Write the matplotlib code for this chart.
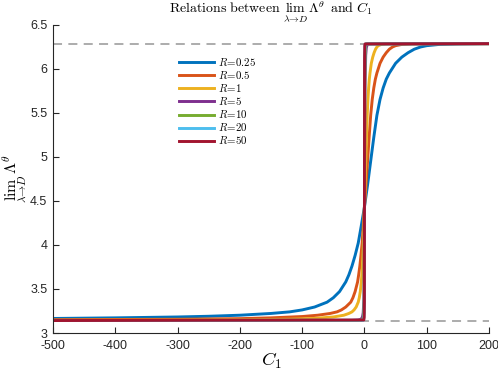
import numpy as np
import matplotlib
matplotlib.use("Agg")
import matplotlib.pyplot as plt

plt.rcParams['font.family'] = ['Liberation Sans', 'DejaVu Sans']
plt.rcParams['mathtext.fontset'] = 'cm'

# values
labels = [r'$R\!=\!0.25$', r'$R\!=\!0.5$', r'$R\!=\!1$', r'$R\!=\!5$', r'$R\!=\!10$',
          r'$R\!=\!20$', r'$R\!=\!50$']
colors = ['#0072BD', '#D95319', '#EDB120', '#7E2F8E', '#77AC30', '#4DBEEE', '#A2142F']

c1_r025 = [-500, -400, -300, -250, -200, -150, -120, -100, -80, -60, -50, -40, -30, -25, -20, -15,
           -10, -5, 0, 5, 10, 15, 20, 25, 30, 35, 40, 50, 60, 70, 80, 90, 100, 120, 150, 200]
lam_r025 = [3.165, 3.172, 3.182, 3.19, 3.202, 3.222, 3.24, 3.262, 3.295, 3.35, 3.40, 3.47, 3.58, 3.66,
            3.76, 3.88, 4.02, 4.22, 4.43, 4.68, 4.95, 5.22, 5.47, 5.65, 5.78, 5.88, 5.95, 6.06, 6.13,
            6.18, 6.22, 6.245, 6.26, 6.274, 6.28, 6.283]

c1_r05 = [-500, -300, -200, -150, -100, -75, -55, -44, -37, -30, -22, -18.5, -15, -11, -9.3, -7.4,
          -5.6, -3.7, -1.85, 0, 2.5, 5, 7.5, 10, 12.5, 15, 17.5, 20, 25, 30, 35, 40, 45, 50, 60, 75,
          100, 200]
lam_r05 = [3.151, 3.156, 3.163, 3.172, 3.187, 3.202, 3.222, 3.24, 3.262, 3.295, 3.35, 3.40, 3.47,
           3.58, 3.66, 3.76, 3.88, 4.02, 4.22, 4.43, 4.68, 4.95, 5.22, 5.47, 5.65, 5.78, 5.88, 5.95,
           6.06, 6.13, 6.18, 6.22, 6.245, 6.26, 6.274, 6.28, 6.283, 6.283]

c1_r1 = [-500, -300, -200, -120, -80, -50, -33, -25, -20, -16.7, -13.3, -10, -8.3, -6.7, -5, -4.2,
         -3.3, -2.5, -1.7, -0.8, 0, 1.1, 2.2, 3.3, 4.4, 5.6, 6.7, 7.8, 8.9, 11, 13.3, 15.5, 17.8,
         20, 22, 27, 33, 45, 200]
lam_r1 = [3.145, 3.147, 3.150, 3.157, 3.166, 3.182, 3.202, 3.222, 3.24, 3.262, 3.295, 3.35, 3.40,
          3.47, 3.58, 3.66, 3.76, 3.88, 4.02, 4.22, 4.43, 4.68, 4.95, 5.22, 5.47, 5.65, 5.78, 5.88,
          5.95, 6.06, 6.13, 6.18, 6.22, 6.245, 6.26, 6.274, 6.28, 6.283, 6.283]

c1_r5 = [-500, -20, -10, -6, -4, -3, -2, -1, -0.5, 0, 0.5, 1, 2, 3, 5, 200]
lam_r5 = [3.1416, 3.143, 3.147, 3.155, 3.17, 3.19, 3.23, 3.38, 3.6, 4.43, 5.3, 5.8, 6.15, 6.24,
          6.28, 6.2832]

c1_r10 = [-500, -10, -5, -3, -2, -1, -0.5, 0, 0.25, 0.5, 1, 2, 3, 200]
lam_r10 = [3.1416, 3.1425, 3.145, 3.155, 3.17, 3.23, 3.38, 4.43, 5.3, 5.8, 6.15, 6.26, 6.28, 6.2832]

c1_r20 = [-500, -2, -1, -0.5, -0.25, 0, 0.2, 0.5, 1, 2, 200]
lam_r20 = [3.1416, 3.145, 3.17, 3.23, 3.38, 4.43, 5.5, 6.15, 6.26, 6.28, 6.2832]

c1_r50 = [-500, -1, -0.4, -0.1, 0, 0.1, 0.2, 0.5, 1, 200]
lam_r50 = [3.1416, 3.148, 3.18, 3.35, 4.43, 5.6, 6.1, 6.26, 6.28, 6.2832]

curves = [(c1_r025, lam_r025), (c1_r05, lam_r05), (c1_r1, lam_r1), (c1_r5, lam_r5),
          (c1_r10, lam_r10), (c1_r20, lam_r20), (c1_r50, lam_r50)]

xticks = [-500, -400, -300, -200, -100, 0, 100, 200]
yticks = [3, 3.5, 4, 4.5, 5, 5.5, 6, 6.5]

fig = plt.figure(figsize=(4.98, 3.72), dpi=100)
ax = fig.add_axes([0.1064, 0.1048, 0.8756, 0.8293])

ax.axhline(np.pi, color='#A6A6A6', lw=1.3, ls=(0, (5, 3.5)), zorder=1)
ax.axhline(2 * np.pi, color='#A6A6A6', lw=1.3, ls=(0, (5, 3.5)), zorder=1)

for (cx, cy), lab, col in zip(curves, labels, colors):
    ax.plot(cx, cy, color=col, lw=2.1, label=lab, zorder=2)

ax.set_xlim(-500, 200)
ax.set_ylim(3, 6.5)
ax.set_xticks(xticks)
ax.set_yticks(yticks)
ax.set_xticklabels([str(t) for t in xticks])
ax.set_yticklabels([('%g' % t) for t in yticks])

gray = '#262626'
for s in ['top', 'right']:
    ax.spines[s].set_visible(False)
for s in ['left', 'bottom']:
    ax.spines[s].set_color(gray)
    ax.spines[s].set_linewidth(0.8)
ax.tick_params(direction='in', length=4, width=0.8, colors=gray, labelsize=9)
ax.tick_params(axis='x', pad=5)
ax.tick_params(axis='y', pad=4)

ax.set_title(r'$\mathrm{Relations\ between\ }\lim_{\lambda\to D}\,\Lambda^{\theta}\mathrm{\ and\ }C_1$',
             fontsize=10, pad=6)
ax.set_xlabel('$C_1$', fontsize=13.5, labelpad=-1)
ax.set_ylabel(r'$\lim_{\lambda\to D}\,\Lambda^{\theta}$', fontsize=11.5)
ax.yaxis.set_label_coords(-0.056, 0.5)

leg = ax.legend(loc='upper left', bbox_to_anchor=(0.289, 0.898), frameon=False, fontsize=7.8,
                handlelength=3.2, labelspacing=0.1, handletextpad=0.37, borderaxespad=0,
                borderpad=0)

fig.savefig('out.png', dpi=100)
